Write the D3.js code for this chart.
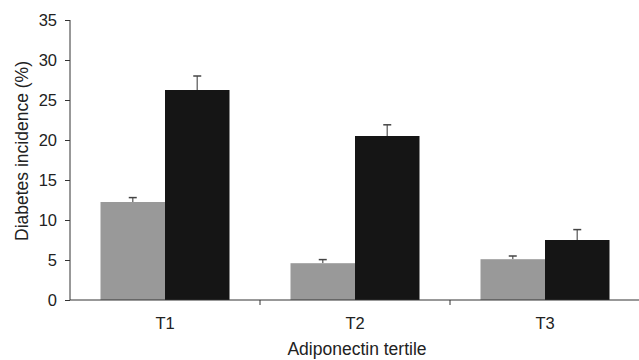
<!DOCTYPE html>
<html>
<head>
<meta charset="utf-8">
<script src="https://cdn.jsdelivr.net/npm/d3@7"></script>
<style>
  body { margin: 0; background: #fff; }
  svg text { font-family: "Liberation Sans", Arial, sans-serif; fill: #222; }
</style>
</head>
<body>
<div id="chart"></div>
<script>
var categories = ["T1", "T2", "T3"];
var seriesNames = ["low", "high"];
var lowValues = [12.25, 4.6, 5.1];
var lowErrors = [12.8, 5.05, 5.5];
var highValues = [26.25, 20.5, 7.5];
var highErrors = [28.0, 21.9, 8.8];
var yTicks = [0, 5, 10, 15, 20, 25, 30, 35];
var colors = ["#999999", "#151515"];

var w = 639, h = 360;
var plotLeft = 70, plotRight = 640, plotTop = 20, plotBottom = 300;

var svg = d3.select("#chart")
  .append("svg")
  .attr("width", w)
  .attr("height", h);

var x = d3.scaleBand()
  .domain(categories)
  .range([plotLeft, plotRight])
  .paddingInner(0)
  .paddingOuter(0);

var xSub = d3.scaleBand()
  .domain(seriesNames)
  .range([x.bandwidth() / 2 - 64.5, x.bandwidth() / 2 + 64.5]);

var y = d3.scaleLinear()
  .domain([0, 35])
  .range([plotBottom, plotTop]);

var data = categories.map(function(c, i) {
  return [
    {cat: c, s: "low", v: lowValues[i], e: lowErrors[i]},
    {cat: c, s: "high", v: highValues[i], e: highErrors[i]}
  ];
});

var groups = svg.selectAll("g.grp")
  .data(data)
  .enter()
  .append("g")
  .attr("class", "grp")
  .attr("transform", function(d, i) { return "translate(" + x(categories[i]) + ",0)"; });

// error bars first (only the upper part shows above the bar)
groups.selectAll("line.err")
  .data(function(d) { return d; })
  .enter()
  .append("line")
  .attr("x1", function(d) { return xSub(d.s) + xSub.bandwidth() / 2; })
  .attr("x2", function(d) { return xSub(d.s) + xSub.bandwidth() / 2; })
  .attr("y1", function(d) { return y(d.v); })
  .attr("y2", function(d) { return y(d.e); })
  .attr("stroke", "#777")
  .attr("stroke-width", 1.5);

groups.selectAll("line.cap")
  .data(function(d) { return d; })
  .enter()
  .append("line")
  .attr("x1", function(d) { return xSub(d.s) + xSub.bandwidth() / 2 - 4; })
  .attr("x2", function(d) { return xSub(d.s) + xSub.bandwidth() / 2 + 4; })
  .attr("y1", function(d) { return y(d.e); })
  .attr("y2", function(d) { return y(d.e); })
  .attr("stroke", "#444")
  .attr("stroke-width", 1.5);

groups.selectAll("rect")
  .data(function(d) { return d; })
  .enter()
  .append("rect")
  .attr("x", function(d) { return xSub(d.s); })
  .attr("width", xSub.bandwidth())
  .attr("y", function(d) { return y(d.v); })
  .attr("height", function(d) { return y(0) - y(d.v); })
  .attr("fill", function(d, i) { return colors[i]; });

// y axis
var yAxis = svg.append("g")
  .attr("transform", "translate(" + plotLeft + ",0)")
  .call(d3.axisLeft(y).tickValues(yTicks).tickSize(5).tickPadding(8));
yAxis.select(".domain").attr("stroke", "#333").attr("d", "M0," + plotTop + "V" + plotBottom);
yAxis.selectAll(".tick line").attr("stroke", "#333");
yAxis.selectAll("text").style("font-size", "16.5px").attr("fill", "#222");

// x axis
var xAxis = svg.append("g")
  .attr("transform", "translate(0," + plotBottom + ")")
  .call(d3.axisBottom(x).tickSize(0).tickPadding(17));
xAxis.select(".domain").attr("stroke", "#333").attr("d", "M" + plotLeft + ",0H" + plotRight);
xAxis.selectAll("text").style("font-size", "16.5px").attr("fill", "#222");

// separator ticks between categories
svg.selectAll("line.sep")
  .data(categories.slice(1))
  .enter()
  .append("line")
  .attr("x1", function(d) { return x(d); })
  .attr("x2", function(d) { return x(d); })
  .attr("y1", plotBottom)
  .attr("y2", plotBottom + 5)
  .attr("stroke", "#333");

svg.append("text")
  .attr("x", 357)
  .attr("y", 355)
  .attr("text-anchor", "middle")
  .style("font-size", "17.5px")
  .text("Adiponectin tertile");

svg.append("text")
  .attr("transform", "translate(28,151) rotate(-90)")
  .attr("text-anchor", "middle")
  .style("font-size", "17.5px")
  .text("Diabetes incidence (%)");
</script>
</body>
</html>
